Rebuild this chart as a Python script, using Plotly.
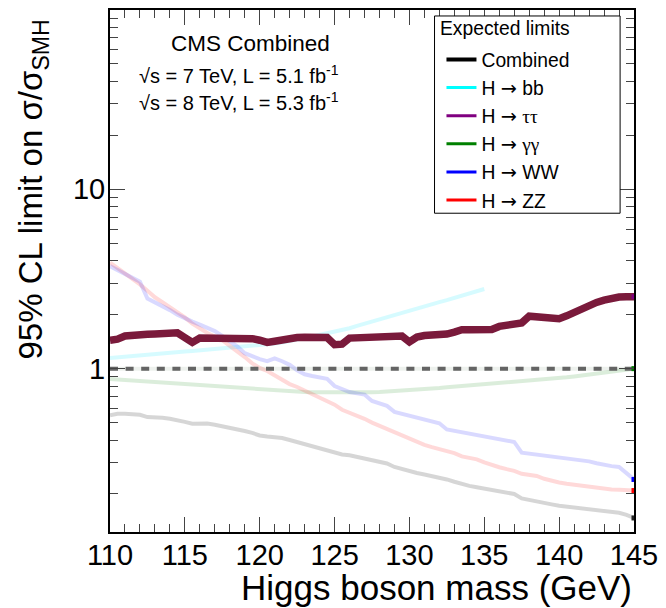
import plotly.graph_objects as go

# Higgs boson mass grid (GeV), 0.5 GeV steps
mass = [110 + 0.5 * i for i in range(71)]

# Expected 95% CL limits on sigma/sigma_SM per channel
combined = [0.55, 0.56, 0.56, 0.555, 0.553, 0.537, 0.536, 0.532, 0.525, 0.518,
            0.505, 0.493, 0.495, 0.494, 0.487, 0.478, 0.47, 0.462, 0.449, 0.438,
            0.424, 0.418, 0.415, 0.41, 0.40, 0.389, 0.38, 0.372, 0.362, 0.352,
            0.338, 0.332, 0.329, 0.322, 0.316, 0.311, 0.303, 0.296, 0.283, 0.275,
            0.268, 0.262, 0.257, 0.252, 0.247, 0.241, 0.234, 0.227, 0.222, 0.218,
            0.214, 0.21, 0.207, 0.204, 0.200, 0.189, 0.186, 0.183, 0.179, 0.175,
            0.172, 0.170, 0.168, 0.166, 0.165, 0.163, 0.161, 0.159, 0.157, 0.153,
            0.147]

# H -> bb is only evaluated up to 135 GeV
hbb = [1.147, 1.155, 1.165, 1.175, 1.185, 1.195, 1.205, 1.215, 1.225, 1.235,
       1.245, 1.255, 1.265, 1.275, 1.285, 1.295, 1.305, 1.315, 1.325, 1.335,
       1.35, 1.365, 1.38, 1.40, 1.42, 1.45, 1.48, 1.51, 1.54, 1.57,
       1.60, 1.64, 1.68, 1.73, 1.78, 1.83, 1.89, 1.94, 1.99, 2.05,
       2.11, 2.17, 2.23, 2.29, 2.35, 2.41, 2.48, 2.55, 2.62, 2.70,
       2.78]

htautau = [1.44, 1.46, 1.52, 1.54, 1.55, 1.555, 1.56, 1.57, 1.58, 1.585,
           1.49, 1.40, 1.48, 1.48, 1.48, 1.48, 1.48, 1.48, 1.475, 1.47,
           1.44, 1.40, 1.42, 1.45, 1.47, 1.49, 1.495, 1.495, 1.495, 1.49,
           1.36, 1.37, 1.48, 1.49, 1.50, 1.505, 1.51, 1.51, 1.515, 1.52,
           1.41, 1.50, 1.53, 1.535, 1.54, 1.56, 1.60, 1.65, 1.65, 1.65,
           1.65, 1.655, 1.72, 1.74, 1.77, 1.80, 1.96, 1.95, 1.93, 1.92,
           1.90, 1.97, 2.06, 2.16, 2.27, 2.34, 2.41, 2.47, 2.51, 2.52,
           2.52]

hgg = [0.876, 0.87, 0.865, 0.86, 0.855, 0.85, 0.845, 0.838, 0.832, 0.826,
       0.82, 0.815, 0.81, 0.805, 0.80, 0.795, 0.79, 0.785, 0.78, 0.772,
       0.765, 0.76, 0.755, 0.75, 0.745, 0.742, 0.74, 0.738, 0.737, 0.736,
       0.735, 0.735, 0.735, 0.736, 0.737, 0.738, 0.74, 0.744, 0.748, 0.753,
       0.758, 0.764, 0.77, 0.775, 0.78, 0.787, 0.793, 0.799, 0.805, 0.81,
       0.815, 0.822, 0.83, 0.835, 0.84, 0.847, 0.855, 0.862, 0.87, 0.877,
       0.885, 0.895, 0.905, 0.917, 0.93, 0.942, 0.955, 0.967, 0.98, 0.99,
       1.0]

hww = [3.73, 3.55, 3.36, 3.2, 3.05, 2.46, 2.35, 2.23, 2.12, 2.0,
       1.9, 1.83, 1.76, 1.69, 1.62, 1.52, 1.42, 1.33, 1.22, 1.17,
       1.13, 1.10, 1.14, 1.10, 1.05, 0.98, 0.93, 0.91, 0.895, 0.878,
       0.80, 0.77, 0.74, 0.728, 0.717, 0.66, 0.64, 0.62, 0.574, 0.56,
       0.545, 0.53, 0.518, 0.506, 0.496, 0.458, 0.450, 0.442, 0.433, 0.424,
       0.415, 0.407, 0.40, 0.395, 0.39, 0.34, 0.336, 0.332, 0.328, 0.324,
       0.320, 0.316, 0.312, 0.308, 0.304, 0.297, 0.290, 0.286, 0.283, 0.262,
       0.241]

hzz = [3.9, 3.65, 3.4, 3.18, 2.95, 2.72, 2.5, 2.35, 2.2, 2.08,
       1.93, 1.78, 1.67, 1.58, 1.51, 1.44, 1.34, 1.25, 1.16, 1.07,
       1.01, 0.97, 0.92, 0.865, 0.82, 0.79, 0.755, 0.725, 0.695, 0.665,
       0.63, 0.59, 0.57, 0.55, 0.525, 0.50, 0.48, 0.462, 0.44, 0.425,
       0.405, 0.39, 0.376, 0.365, 0.357, 0.35, 0.338, 0.324, 0.318, 0.312,
       0.30, 0.289, 0.282, 0.275, 0.269, 0.259, 0.255, 0.252, 0.243, 0.236,
       0.232, 0.228, 0.225, 0.222, 0.22, 0.217, 0.214, 0.212, 0.211, 0.21,
       0.209]

sm_ref = [1.0, 1.0]
sm_mass = [110, 145]

ARROW = "<span style='font-family:DejaVu Sans'>\u2192</span>"
SERIF = "<span style='font-family:Liberation Serif'>{}</span>"
legend_names = ["Combined", "H " + ARROW + " bb",
                "H " + ARROW + " " + SERIF.format("\u03c4\u03c4"),
                "H " + ARROW + " " + SERIF.format("\u03b3\u03b3"),
                "H " + ARROW + " WW", "H " + ARROW + " ZZ"]
legend_colors = ["#000000", "#00ffff", "#800080", "#008000", "#0000ff", "#ff0000"]
legend_widths = [4, 3, 3, 3, 3, 3]

x_ticks = [110, 115, 120, 125, 130, 135, 140, 145]
y_ticks = [1, 10]
y_minor = [0.2, 0.3, 0.4, 0.5, 0.6, 0.7, 0.8, 0.9,
           2, 3, 4, 5, 6, 7, 8, 9,
           20, 30, 40, 50, 60, 70, 80, 90]

FONT = "Liberation Sans, Arial, Helvetica, sans-serif"
W, H = 666, 608
PL, PR, PT, PB = 110, 638, 8, 532


def px_x(p):
    return (p - PL) / (PR - PL)


def px_y(p):
    return (PB - p) / (PB - PT)


fig = go.Figure()

faded = [
    (combined, mass, "rgba(0,0,0,0.16)", 4),
    (hbb, mass[:len(hbb)], "rgba(0,230,255,0.16)", 4),
    (hgg, mass, "rgba(0,128,0,0.14)", 4),
    (hzz, mass, "rgba(255,0,0,0.15)", 4),
    (hww, mass, "rgba(0,0,255,0.15)", 4),
]
for ys, xs, col, w in faded:
    fig.add_trace(go.Scatter(x=xs, y=ys, mode="lines", showlegend=False,
                             line=dict(color=col, width=w), hoverinfo="skip"))

# SM reference line at sigma/sigma_SM = 1
fig.add_trace(go.Scatter(x=sm_mass, y=sm_ref, mode="lines", showlegend=False,
                         line=dict(color="rgba(0,60,0,0.07)", width=4),
                         hoverinfo="skip"))
fig.add_trace(go.Scatter(x=sm_mass, y=sm_ref, mode="lines", showlegend=False,
                         line=dict(color="#646464", width=4, dash="8px,7.6px"),
                         hoverinfo="skip"))

# highlighted channel
fig.add_trace(go.Scatter(x=mass, y=htautau, mode="lines", showlegend=False,
                         line=dict(color="#7a1a3b", width=7.5), hoverinfo="skip"))

# end-point markers at the last mass point
ends = [(combined, "#222222"), (hgg, "#008000"), (hzz, "#ff0000"),
        (hww, "#0000ff"), (htautau, "#800080")]
for ys, col in ends:
    fig.add_trace(go.Scatter(x=[mass[-1]], y=[ys[-1]], mode="markers",
                             showlegend=False, hoverinfo="skip",
                             marker=dict(symbol="square", size=5, color=col,
                                         line=dict(width=0))))

# legend entries
for name, col, w in zip(legend_names, legend_colors, legend_widths):
    fig.add_trace(go.Scatter(x=[None], y=[None], mode="lines", name=name,
                             line=dict(color=col, width=w)))

axis_common = dict(showline=True, linecolor="black", linewidth=2, mirror="allticks",
                   ticks="inside", tickcolor="#444", tickwidth=1, ticklen=15,
                   showgrid=False, zeroline=False,
                   tickfont=dict(family=FONT, size=29, color="black"))

fig.update_xaxes(range=[110, 145], tickmode="array", tickvals=x_ticks,
                 ticktext=[str(v) for v in x_ticks], ticklabelstandoff=-4,
                 minor=dict(dtick=1, ticks="inside", ticklen=8, tickwidth=1,
                            tickcolor="#444"),
                 **axis_common)
fig.update_yaxes(type="log", range=[-0.911, 2], tickmode="array", tickvals=y_ticks,
                 ticktext=["1", "10"], ticklabelstandoff=-3,
                 minor=dict(tickmode="array", tickvals=y_minor, ticks="inside",
                            ticklen=8, tickwidth=1, tickcolor="#444"),
                 **axis_common)

annotations = [
    dict(text="Higgs boson mass (GeV)", x=1.0, y=px_y(588), xanchor="right",
         yanchor="middle", font=dict(family=FONT, size=35, color="black")),
    dict(text="95% CL limit on \u03c3/\u03c3<sub>SMH</sub>", x=px_x(32), y=px_y(16),
         xanchor="center", yanchor="top", textangle=-90,
         font=dict(family=FONT, size=33, color="black")),
    dict(text="CMS Combined", x=px_x(252), y=px_y(42), xanchor="center",
         yanchor="middle", font=dict(family=FONT, size=22.5, color="black")),
    dict(text="\u221as = 7 TeV, L = 5.1 fb<sup>-1</sup>", x=px_x(137), y=px_y(73),
         xanchor="left", yanchor="middle", font=dict(family=FONT, size=20, color="black")),
    dict(text="\u221as = 8 TeV, L = 5.3 fb<sup>-1</sup>", x=px_x(137), y=px_y(100),
         xanchor="left", yanchor="middle", font=dict(family=FONT, size=20, color="black")),
    dict(text="Expected limits", x=px_x(441), y=px_y(27), xanchor="left",
         yanchor="middle", font=dict(family=FONT, size=19.3, color="black")),
]
for a in annotations:
    a.update(xref="paper", yref="paper", showarrow=False)

fig.update_layout(
    width=W, height=H,
    margin=dict(l=PL, r=W - PR, t=PT, b=H - PB, pad=0),
    paper_bgcolor="white", plot_bgcolor="white",
    annotations=annotations,
    shapes=[dict(type="rect", xref="paper", yref="paper",
                 x0=px_x(437), x1=px_x(624), y0=px_y(212), y1=px_y(14),
                 line=dict(color="black", width=1), fillcolor="white", layer="above")],
    legend=dict(x=px_x(444), y=px_y(38.6), xanchor="left", yanchor="top",
                bgcolor="rgba(0,0,0,0)", borderwidth=0, itemwidth=30,
                font=dict(family=FONT, size=19.3, color="black"),
                tracegroupgap=0),
    showlegend=True,
)

fig.write_html("out.html")
